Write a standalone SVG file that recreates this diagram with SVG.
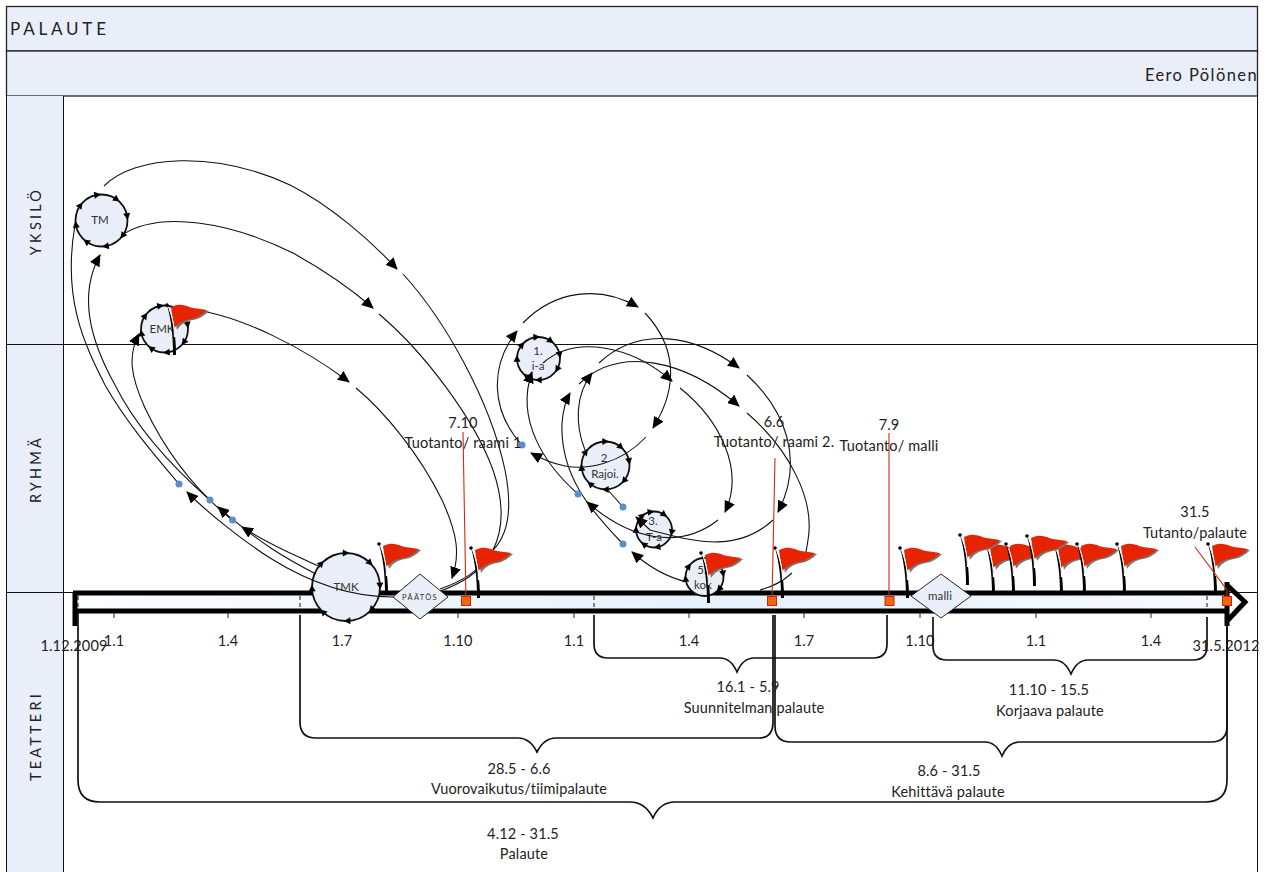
<svg xmlns="http://www.w3.org/2000/svg" width="1267" height="872" viewBox="0 0 1267 872">
<style>
text{font-family:Lato,"Open Sans","Liberation Sans",sans-serif;fill:#222;font-size:14.500px;letter-spacing:.15px;text-anchor:middle}
.lane{fill:#e9eef8;stroke:#222;stroke-width:1.3}
.lbl{font-size:14.500px;letter-spacing:3.200px}
.n{fill:#e9eef8;stroke:#111;stroke-width:1.8}
text.nt{font-size:11.500px;fill:#333;letter-spacing:0}
.c{fill:none;stroke:#111;stroke-width:1.1}
.a{marker-end:url(#ah)}
.b{fill:none;stroke:#111;stroke-width:1.7}
.tl{fill:none;stroke:#000;stroke-width:5}
.r{stroke:#d8280c;stroke-width:1.1;fill:none}
.s{fill:#f5650a;stroke:#c9260c;stroke-width:1}
.d{fill:#e9eef8;stroke:#222;stroke-width:1}
.dot{fill:#5b8fcb}
.tick{stroke:#222;stroke-width:1}
.dash{stroke:#111;stroke-width:1;stroke-dasharray:4 3}
</style>
<defs>
<linearGradient id="band" x1="0" x2="1" y1="0" y2="0"><stop offset="0" stop-color="#fbfdff"/><stop offset=".55" stop-color="#e6f1fb"/><stop offset="1" stop-color="#f6faff"/></linearGradient>
<marker id="ah" markerUnits="userSpaceOnUse" markerWidth="13" markerHeight="11" refX="11" refY="5.500" orient="auto"><path d="M0,0L12,5.500L0,11z" fill="#000"/></marker>
<path id="t" d="M-3.500,-3.200L0,3.500L3.500,-3.200z" fill="#000"/>
<g id="flag">
<path d="M5,3C17,-3 21,3 27,4C32,5 37,4 41,5C36,10 31,13 25,14C18,15 13,18 9,24z" fill="#777" transform="translate(1,1)"/>
<path d="M4,2C15,-3 20,2 26,3C31,4 36,4 40,5C35,10 30,13 24,14C17,15 12,18 7,23z" fill="#e62500"/>
<path d="M0,0C6,12 9,30 9,50L6,50C6,30 4,14 0,0z" fill="#000"/>
<path d="M2.500,4C6,14 7.500,22 7.500,32" fill="none" stroke="#fff" stroke-width="1.100"/>
<circle cx="0" cy="0" r="1.800" fill="#000"/>
</g>
</defs>

<g id="swimlanes">
<rect x="6.500" y="6.500" width="1251" height="44.500" class="lane"/>
<rect x="6.500" y="51" width="1251" height="45" class="lane"/>
<rect x="6" y="96" width="57" height="776" fill="#e9eef8"/>
<path d="M6.500,96V872M63.500,96V872M1257.500,96V872M6,344.500H1258M6,592.500H1258" fill="none" stroke="#111" stroke-width="1"/>
<text x="10" y="35" style="font-size:17px;letter-spacing:3.800px;text-anchor:start">PALAUTE</text>
<text x="1258" y="81" style="font-size:16.500px;letter-spacing:1.400px;text-anchor:end">Eero Pölönen</text>
<text class="lbl" transform="translate(41,221) rotate(-90)">YKSILÖ</text>
<text class="lbl" transform="translate(41,469) rotate(-90)">RYHMÄ</text>
<text class="lbl" transform="translate(41,736) rotate(-90)">TEATTERI</text>
</g>

<g id="timeline">
<rect x="76" y="594" width="1152" height="17" fill="url(#band)"/>
<path class="tl" d="M73,593H1229M73,611H1229M75,592V626"/>
<path class="tl" d="M1227,582V626M1228,586L1245,602L1228,620"/>
<path class="dash" d="M78,596V610M300,596V610M594,596V610M1207,596V610"/>
<path class="tick" d="M114,612V618M228,612V618M458,612V618M574,612V618M689,612V618M804,612V618M920,612V618M1036,612V618M1151,612V618"/>
</g>

<g id="axis-labels">
<text x="74" y="651">1.12.2009</text>
<text x="114" y="646">1.1</text>
<text x="228" y="646">1.4</text>
<text x="342" y="646">1.7</text>
<text x="458" y="646">1.10</text>
<text x="574" y="646">1.1</text>
<text x="689" y="646">1.4</text>
<text x="804" y="646">1.7</text>
<text x="920" y="646">1.10</text>
<text x="1036" y="646">1.1</text>
<text x="1151" y="646">1.4</text>
<text x="1226" y="651">31.5.2012</text>
</g>

<g id="braces">
<path class="b" d="M78,612V780Q78,802 100,802H630Q645,802 653,818Q660,802 675,802H1205Q1227,802 1227,780V620"/>
<path class="b" d="M300,615V722Q300,738 316,738H518Q530,738 537,752Q544,738 556,738H759Q773,738 773,722V615"/>
<path class="b" d="M594,615V644Q594,658 608,658H720Q731,658 737,672Q743,658 754,658H873Q887,658 887,644V615"/>
<path class="b" d="M933,617V646Q933,660 947,660H1054Q1065,660 1071,674Q1077,660 1088,660H1193Q1207,660 1207,646V617"/>
<path class="b" d="M775,615V726Q775,742 791,742H985Q996,742 1002,756Q1008,742 1019,742H1211Q1227,742 1227,726V620"/>
</g>

<g id="brace-labels">
<text x="748" y="692">16.1 - 5.9</text>
<text x="754" y="713">Suunnitelman palaute</text>
<text x="1049" y="695">11.10 - 15.5</text>
<text x="1050" y="716">Korjaava palaute</text>
<text x="949" y="776">8.6 - 31.5</text>
<text x="948" y="797">Kehittävä palaute</text>
<text x="519" y="774">28.5 - 6.6</text>
<text x="519" y="794">Vuorovaikutus/tiimipalaute</text>
<text x="523" y="839">4.12 - 31.5</text>
<text x="524" y="859">Palaute</text>
</g>

<g id="node-TM"><circle class="n" cx="101.500" cy="220.500" r="26"/><text class="nt" x="100" y="224">TM</text>
<g transform="translate(101.500,220.500)"><use href="#t" transform="rotate(-99) translate(26)"/><use href="#t" transform="rotate(-54) translate(26)"/><use href="#t" transform="rotate(-9) translate(26)"/><use href="#t" transform="rotate(36) translate(26)"/><use href="#t" transform="rotate(81) translate(26)"/><use href="#t" transform="rotate(126) translate(26)"/><use href="#t" transform="rotate(171) translate(26)"/><use href="#t" transform="rotate(216) translate(26)"/></g></g>
<g id="node-EM"><circle class="n" cx="164.500" cy="329" r="23.500"/><text class="nt" x="162" y="333">EMK</text>
<g transform="translate(164.500,329)"><use href="#t" transform="rotate(-100) translate(23.500)"/><use href="#t" transform="rotate(-10) translate(23.500)"/><use href="#t" transform="rotate(35) translate(23.500)"/><use href="#t" transform="rotate(85) translate(23.500)"/><use href="#t" transform="rotate(125) translate(23.500)"/><use href="#t" transform="rotate(170) translate(23.500)"/><use href="#t" transform="rotate(215) translate(23.500)"/></g></g>
<g id="node-TMK"><circle class="n" cx="346" cy="587" r="34"/><text class="nt" x="346" y="591">TMK</text>
<g transform="translate(346,587)"><use href="#t" transform="rotate(-90) translate(34)"/><use href="#t" transform="rotate(-45) translate(34)"/><use href="#t" transform="rotate(-2) translate(34)"/><use href="#t" transform="rotate(42) translate(34)"/><use href="#t" transform="rotate(88) translate(34)"/><use href="#t" transform="rotate(133) translate(34)"/><use href="#t" transform="rotate(178) translate(34)"/><use href="#t" transform="rotate(224) translate(34)"/></g></g>
<g id="node-1"><circle class="n" cx="538.500" cy="358.500" r="21.500"/><text class="nt" x="538" y="355">1.</text><text class="nt" x="538" y="370">i-a</text>
<g transform="translate(538.500,358.500)"><use href="#t" transform="rotate(-95) translate(21.500)"/><use href="#t" transform="rotate(-55) translate(21.500)"/><use href="#t" transform="rotate(-10) translate(21.500)"/><use href="#t" transform="rotate(30) translate(21.500)"/><use href="#t" transform="rotate(90) translate(21.500)"/><use href="#t" transform="rotate(125) translate(21.500)"/><use href="#t" transform="rotate(180) translate(21.500)"/><use href="#t" transform="rotate(220) translate(21.500)"/></g></g>
<g id="node-2"><circle class="n" cx="605.500" cy="465.500" r="24"/><text class="nt" x="604" y="462">2</text><text class="nt" x="605" y="478">Rajoi.</text>
<g transform="translate(605.500,465.500)"><use href="#t" transform="rotate(-90) translate(24)"/><use href="#t" transform="rotate(-50) translate(24)"/><use href="#t" transform="rotate(-10) translate(24)"/><use href="#t" transform="rotate(40) translate(24)"/><use href="#t" transform="rotate(90) translate(24)"/><use href="#t" transform="rotate(130) translate(24)"/><use href="#t" transform="rotate(175) translate(24)"/><use href="#t" transform="rotate(215) translate(24)"/></g></g>
<g id="node-3"><circle class="n" cx="654" cy="529.500" r="18"/><text class="nt" x="653" y="525">3.</text><text class="nt" x="654" y="541">T-a</text>
<g transform="translate(654,529.500)"><use href="#t" transform="rotate(-100) translate(18)"/><use href="#t" transform="rotate(-55) translate(18)"/><use href="#t" transform="rotate(10) translate(18)"/><use href="#t" transform="rotate(80) translate(18)"/><use href="#t" transform="rotate(125) translate(18)"/><use href="#t" transform="rotate(180) translate(18)"/><use href="#t" transform="rotate(230) translate(18)"/></g></g>
<g id="node-5"><circle class="n" cx="704.500" cy="577" r="19"/><text class="nt" x="702" y="574">5.</text><text class="nt" x="703" y="589">kok</text>
<g transform="translate(704.500,577)"><use href="#t" transform="rotate(-10) translate(19)"/><use href="#t" transform="rotate(40) translate(19)"/><use href="#t" transform="rotate(175) translate(19)"/><use href="#t" transform="rotate(215) translate(19)"/></g></g>

<g id="connectors">
<path class="c a" d="M104,186C135,155 215,150 290,185C330,205 370,240 397,269"/>
<path class="c" d="M403,274C445,320 490,400 505,470C513,510 508,535 493,550C480,572 460,582 440,589"/>
<path class="c a" d="M122,235C160,210 230,222 293,253C320,268 350,288 373,308"/>
<path class="c" d="M379,314C425,353 475,420 493,470C505,505 503,530 493,550C480,574 460,584 438,592"/>
<path class="c a" d="M207,312C245,320 300,345 349,382"/>
<path class="c a" d="M356,388C385,412 420,455 442,500C458,535 460,555 452,578"/>
<path class="c a" d="M393,597C350,597 310,583 270,558C245,542 210,515 187,492"/>
<path class="c a" d="M316,574C285,558 262,545 218,507"/>
<path class="c a" d="M320,567C295,555 270,545 242,527"/>
<path class="c" d="M179,484C150,450 125,420 105,385C85,345 62,300 75,225"/>
<path class="c a" d="M210,500C170,465 135,425 115,385C90,340 78,295 100,255"/>
<path class="c a" d="M232,520C195,490 165,450 145,408C130,375 128,355 139,334"/>
<path class="c a" d="M523,323C555,290 600,285 638,307"/>
<path class="c a" d="M645,313C675,345 680,385 653,428"/>
<path class="c a" d="M646,437C620,465 585,470 565,466C550,463 540,458 531,453"/>
<path class="c a" d="M522,445C490,410 490,365 517,331"/>
<path class="c a" d="M543,363C575,335 630,345 672,381"/>
<path class="c a" d="M680,388C720,420 745,470 725,512"/>
<path class="c a" d="M718,520C680,550 630,540 587,502"/>
<path class="c a" d="M578,494C545,465 515,420 532,372"/>
<path class="c" d="M623,507L607,489"/>
<path class="c a" d="M623,544C590,510 560,475 562,423C563,410 566,400 570,393"/>
<path class="c a" d="M585,450C575,425 575,395 592,373"/>
<path class="c a" d="M579,384C620,345 685,360 739,406"/>
<path class="c" d="M747,413C790,450 815,500 808,540C807,548 806,552 805,556"/>
<path class="c" d="M792,573C782,582 772,587 760,590"/>
<path class="c a" d="M599,363C640,325 695,335 739,368"/>
<path class="c a" d="M747,375C785,410 805,460 778,512"/>
<path class="c a" d="M773,520C735,555 690,540 650,530L636,517"/>
<path class="c a" d="M687,582C670,578 650,568 632,552"/>
</g>

<g id="dots">
<circle class="dot" cx="179" cy="484" r="3.500"/><circle class="dot" cx="210" cy="500" r="3.500"/><circle class="dot" cx="232.500" cy="520" r="3.500"/>
<circle class="dot" cx="522" cy="445" r="3.500"/><circle class="dot" cx="578" cy="494" r="3.500"/><circle class="dot" cx="623" cy="507" r="3.500"/><circle class="dot" cx="623" cy="544" r="3.500"/>
</g>

<g id="flags">
<use id="flag-1" href="#flag" x="167" y="305"/>
<use id="flag-2" href="#flag" x="379" y="544"/>
<use id="flag-3" href="#flag" x="471" y="548"/>
<use id="flag-4" href="#flag" x="701" y="553"/>
<use id="flag-5" href="#flag" x="775" y="548"/>
<use id="flag-6" href="#flag" x="900" y="548"/>
<use id="flag-8" href="#flag" x="986" y="545"/>
<use id="flag-9" href="#flag" x="1006" y="544"/>
<use id="flag-11" href="#flag" x="1054" y="545"/>
<use id="flag-12" href="#flag" x="1077" y="544"/>
<use id="flag-10" href="#flag" x="1027" y="536"/>
<use id="flag-7" href="#flag" x="960" y="535"/>
<use id="flag-13" href="#flag" x="1117" y="544"/>
<use id="flag-14" href="#flag" x="1208" y="544"/>
</g>

<g id="node-paatos"><path class="d" d="M420,574L448,597L420,619L393,597z"/><text x="420" y="600" style="font-size:7.500px;letter-spacing:1.300px;fill:#333">PÄÄTÖS</text></g>
<g id="node-malli"><path class="d" d="M941,574L971,596L941,618L911,596z"/><text x="940" y="600" style="font-size:11.500px;fill:#333">malli</text></g>

<g id="milestones">
<path class="r" d="M463,432L466,601M775,458L772,601M889,433V601M1195,547L1227,590V601"/>
<rect class="s" x="461.500" y="596.500" width="9" height="9"/><rect class="s" x="767.500" y="596.500" width="9" height="9"/><rect class="s" x="885" y="596.500" width="9" height="9"/><rect class="s" x="1222.500" y="596.500" width="9" height="9"/>
<text x="463" y="428">7.10</text><text x="463" y="448">Tuotanto/ raami 1</text>
<text x="774" y="427">6.6</text><text x="774" y="447">Tuotanto/ raami 2.</text>
<text x="889" y="430">7.9</text><text x="889" y="451">Tuotanto/ malli</text>
<text x="1195" y="517">31.5</text><text x="1195" y="538">Tutanto/palaute</text>
</g>
</svg>
